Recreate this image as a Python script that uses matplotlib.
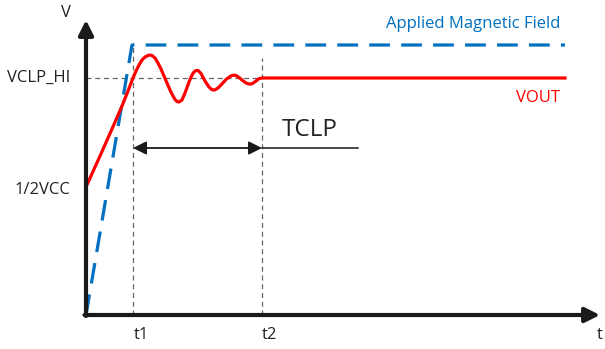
import matplotlib
matplotlib.use("Agg")
import matplotlib.pyplot as plt

plt.rcParams['font.family'] = ['Open Sans', 'DejaVu Sans']

# time / voltage in arbitrary units (origin at the axes corner)
field_t = [0, 46, 479]
field_v = [0, 270, 270]

vout_t = [0, 14, 26, 36, 42, 47, 50, 53, 56, 59, 62, 64, 66, 69, 72, 75, 78, 81,
          84, 87, 89, 91, 93, 96, 99, 103, 106, 108, 110, 112, 115, 119, 123,
          125, 127, 129, 132, 135, 140, 144, 146, 148, 150, 153, 156, 160, 163,
          165, 167, 170, 173, 176, 479]
vout_v = [128, 159, 186, 209, 224, 237, 244, 250, 255, 258, 259.5, 260, 259.5,
          257, 252, 246, 239, 232, 225, 219, 215.5, 213.5, 213, 215, 222, 233,
          240, 243, 244.5, 244.5, 241.5, 234, 228, 226, 225, 225.2, 227, 230,
          235.5, 238.5, 239.5, 239.8, 239.5, 237.5, 235, 232, 231, 231, 231.8,
          234, 236.3, 237, 237]

t1 = 47
t2 = 176
vclp_hi = 237
half_vcc = 128
tclp_v = 167

fig = plt.figure(figsize=(6.05, 3.49), dpi=100)
ax = fig.add_axes([0, 0, 1, 1])
ax.set_xlim(-86, 519)
ax.set_ylim(-34, 315)
ax.axis('off')

grey = '#666666'
blue = '#0070C0'
ink = '#222222'

# guide lines
ax.plot([0, t2], [vclp_hi, vclp_hi], color=grey, lw=0.9, ls=(0, (4, 3)))
ax.plot([t1, t1], [0, 272], color=grey, lw=0.9, ls=(0, (4, 3)))
ax.plot([t2, t2], [0, 257], color=grey, lw=0.9, ls=(0, (4, 3)))

# signals
ax.plot(field_t, field_v, color=blue, lw=2.3, ls=(0, (6.5, 3.5)))
ax.plot(vout_t, vout_v, color='red', lw=2.3, solid_joinstyle='round')

# axes with arrowheads
ax.annotate('', xy=(0, 295), xytext=(0, -1),
            arrowprops=dict(arrowstyle='-|>', lw=3, color='#1a1a1a',
                            mutation_scale=22, shrinkA=0, shrinkB=0))
ax.annotate('', xy=(514, 0), xytext=(-1.5, 0),
            arrowprops=dict(arrowstyle='-|>', lw=3, color='#1a1a1a',
                            mutation_scale=22, shrinkA=0, shrinkB=0))

# TCLP span
ax.annotate('', xy=(t1, tclp_v), xytext=(t2, tclp_v),
            arrowprops=dict(arrowstyle='<|-|>', lw=1.3, color='#1a1a1a',
                            mutation_scale=20, shrinkA=0, shrinkB=0))
ax.plot([t2, 272], [tclp_v, tclp_v], color='#1a1a1a', lw=1.1)
ax.text(224, 185, 'TCLP', fontsize=17.5, color=ink, ha='center', va='center')

# labels
fs = 12
ax.text(-20, 302, 'V', fontsize=fs, color=ink, ha='center', va='center')
ax.text(-16, vclp_hi, 'VCLP_HI', fontsize=fs, color=ink, ha='right', va='center')
ax.text(-16, half_vcc - 3, '1/2VCC', fontsize=fs, color=ink, ha='right', va='center')
ax.text(t1 + 8, -20, 't1', fontsize=fs, color=ink, ha='center', va='center')
ax.text(t2 + 7, -20, 't2', fontsize=fs, color=ink, ha='center', va='center')
ax.text(517, -20, 't', fontsize=fs, color=ink, ha='right', va='center')
ax.text(474, 291, 'Applied Magnetic Field', fontsize=fs, color=blue,
        ha='right', va='center')
ax.text(474, 217, 'VOUT', fontsize=fs, color='red', ha='right', va='center')

fig.savefig('out.png', dpi=100)
